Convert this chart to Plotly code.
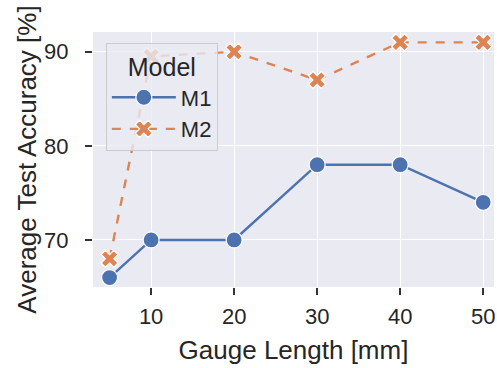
import plotly.graph_objects as go

gauge = [5, 10, 20, 30, 40, 50]
m1 = [66, 70, 70, 78, 78, 74]
m2 = [68, 89.5, 90, 87, 91, 91]
x_ticks = [10, 20, 30, 40, 50]
y_ticks = [70, 80, 90]

fig = go.Figure()
fig.add_trace(go.Scatter(x=gauge, y=m1, name="M1", mode="lines+markers",
                         line=dict(color="#4C72B0", width=2.4),
                         marker=dict(symbol="circle", size=16, color="#4C72B0",
                                     line=dict(color="white", width=1.2))))
fig.add_trace(go.Scatter(x=gauge, y=m2, name="M2", mode="lines+markers",
                         line=dict(color="#DD8452", width=2.4, dash="dash"),
                         marker=dict(symbol="x", size=15, color="#DD8452",
                                     line=dict(color="white", width=1.2))))

font = "Liberation Sans, Arial, sans-serif"
fig.update_layout(
    width=497, height=368,
    margin=dict(l=93, r=3, t=32, b=81, autoexpand=False),
    paper_bgcolor="white", plot_bgcolor="#EAEAF2",
    font=dict(family=font, color="#262626", size=22),
    showlegend=True,
    legend=dict(title=dict(text="Model", font=dict(size=25), side="top center"),
                x=0.032, y=0.957, xanchor="left", yanchor="top",
                bgcolor="rgba(234,234,242,0.8)", bordercolor="#CCCCCC", borderwidth=1,
                font=dict(size=22), itemwidth=64),
    xaxis=dict(range=[3.0, 51.3], tickvals=x_ticks, showgrid=True, gridcolor="white",
               gridwidth=1.3, zeroline=False, ticks="outside", ticklen=7, tickwidth=1.5,
               tickcolor="#333333", automargin=False, ticklabelstandoff=3,
               title=dict(text="Gauge Length [mm]", font=dict(size=26), standoff=12),
               tickfont=dict(size=22)),
    yaxis=dict(range=[65.0, 92.1], tickvals=y_ticks, showgrid=True, gridcolor="white",
               gridwidth=1.3, zeroline=False, ticks="outside", ticklen=7, tickwidth=1.5,
               tickcolor="#333333", automargin=False, ticklabelstandoff=12,
               title=dict(text="Average Test Accuracy [%]", font=dict(size=26), standoff=0),
               tickfont=dict(size=22)),
)
fig.write_html("out.html", config={"displayModeBar": False},
               post_script="document.body.style.margin='0';document.body.style.overflow='hidden';")
